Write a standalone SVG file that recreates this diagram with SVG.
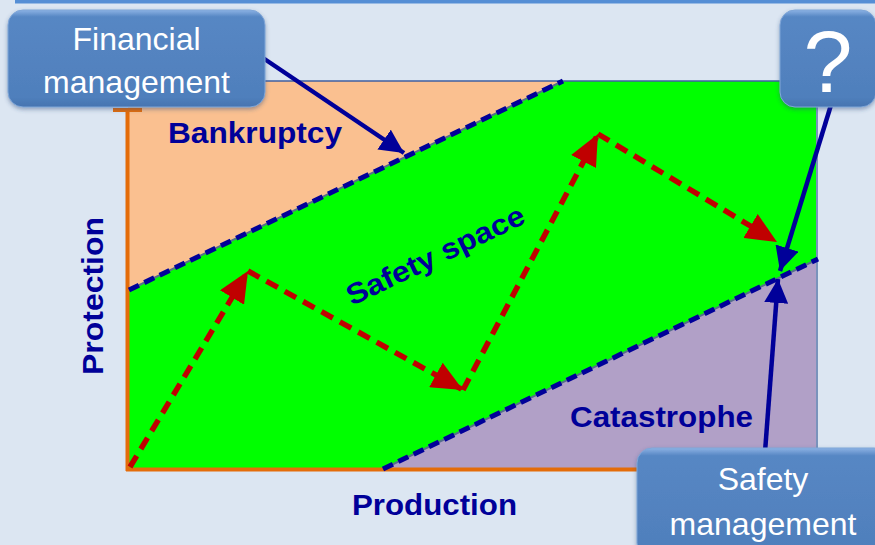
<svg xmlns="http://www.w3.org/2000/svg" width="875" height="545" viewBox="0 0 875 545">
  <defs>
    <style>
      .label { font-family: "Liberation Sans", Arial, sans-serif; font-weight: bold; font-size: 29px; fill: #000099; }
      .boxtext { font-family: "Liberation Sans", Arial, sans-serif; font-size: 32px; fill: #FFFFFF; text-anchor: middle; }
      .box { fill: url(#boxFill); stroke: #7FA6D8; stroke-width: 1; filter: url(#shadow); }
      .limit-base { stroke: #55708A; stroke-width: 2; fill: none; }
      .limit { stroke: #000099; stroke-width: 5; stroke-dasharray: 11 6; fill: none; }
      .drift { stroke: #C00000; stroke-width: 5.5; stroke-dasharray: 13 8; fill: none; marker-end: url(#redHead); }
      .pointer { stroke: #000099; stroke-width: 4.5; fill: none; marker-end: url(#blueHead); }
      .axis { stroke: #E46C0A; stroke-width: 4; fill: none; }
    </style>
    <linearGradient id="boxFill" x1="0" y1="0" x2="0" y2="1">
      <stop offset="0" stop-color="#8CB2E4"/>
      <stop offset="0.07" stop-color="#5787C4"/>
      <stop offset="0.9" stop-color="#4F7FBC"/>
      <stop offset="1" stop-color="#4674B0"/>
    </linearGradient>
    <filter id="shadow" x="-10%" y="-10%" width="120%" height="130%">
      <feDropShadow dx="0" dy="2" stdDeviation="2" flood-color="#2A4A7A" flood-opacity="0.45"/>
    </filter>
    <marker id="redHead" markerUnits="userSpaceOnUse" viewBox="0 0 31 28" markerWidth="31" markerHeight="28" refX="31" refY="14" orient="auto">
      <path d="M0,0 L31,14 L0,28 Z" fill="#C00000"/>
    </marker>
    <marker id="blueHead" markerUnits="userSpaceOnUse" viewBox="0 0 24 24" markerWidth="24" markerHeight="24" refX="24" refY="12" orient="auto">
      <path d="M0,0 L24,12 L0,24 Z" fill="#000099"/>
    </marker>
  </defs>

  <!-- slide background and title rule -->
  <rect x="0" y="0" width="875" height="545" fill="#DCE6F2"/>
  <rect x="15" y="0" width="860" height="3.5" fill="#558ED5"/>

  <!-- regions of the production/protection plane -->
  <g id="regions">
    <rect x="128" y="81" width="689" height="388" fill="#00FF00"/>
    <polygon points="128,81 563,81 128,290" fill="#FAC090"/>
    <polygon points="383,469 817,259 817,469" fill="#B1A0C7"/>
    <line x1="128" y1="81" x2="817" y2="81" stroke="#3F5FA0" stroke-width="1.5"/>
    <line x1="817" y1="81" x2="817" y2="469" stroke="#7A93BC" stroke-width="2"/>
  </g>

  <!-- axes -->
  <g id="axes">
    <line class="axis" x1="127.5" y1="110" x2="127.5" y2="471"/>
    <line class="axis" x1="113" y1="110" x2="142" y2="110"/>
    <line class="axis" x1="126" y1="469.5" x2="700" y2="469.5"/>
  </g>

  <!-- boundaries of the safety space -->
  <g id="boundaries">
    <line class="limit-base" x1="129" y1="290" x2="563" y2="81"/>
    <line class="limit" x1="129" y1="290" x2="563" y2="81"/>
    <line class="limit-base" x1="383" y1="469" x2="818" y2="259"/>
    <line class="limit" x1="383" y1="469" x2="818" y2="259"/>
  </g>

  <!-- region and axis labels -->
  <g id="bankruptcy"><text class="label" x="168" y="143" textLength="174" lengthAdjust="spacingAndGlyphs">Bankruptcy</text></g>
  <g id="catastrophe"><text class="label" x="570" y="427" textLength="183" lengthAdjust="spacingAndGlyphs">Catastrophe</text></g>
  <g id="production"><text class="label" x="352" y="515" textLength="165" lengthAdjust="spacingAndGlyphs">Production</text></g>
  <g id="protection"><text class="label" transform="translate(103,375) rotate(-90)" x="0" y="0" textLength="158" lengthAdjust="spacingAndGlyphs">Protection</text></g>
  <g id="safety-space"><text class="label" transform="translate(352,306) rotate(-25.5)" x="0" y="0" textLength="194" lengthAdjust="spacingAndGlyphs">Safety space</text></g>

  <!-- connectors: drift of the operating point and management pointers -->
  <g id="connectors">
    <line class="drift" x1="130" y1="467" x2="248" y2="271"/>
    <line class="drift" x1="248" y1="271" x2="463" y2="390"/>
    <line class="drift" x1="463" y1="390" x2="598" y2="134"/>
    <line class="drift" x1="598" y1="134" x2="777" y2="242"/>
    <line class="pointer" x1="263" y1="58" x2="404" y2="153"/>
    <line class="pointer" x1="831" y1="105" x2="780" y2="271"/>
    <line class="pointer" x1="765" y1="452" x2="778" y2="279"/>
  </g>

  <!-- callout boxes -->
  <g id="financial-management">
    <rect class="box" x="8" y="10" width="257" height="97" rx="15" ry="15"/>
    <text class="boxtext" x="136.5" y="50">Financial</text>
    <text class="boxtext" x="136.5" y="93">management</text>
  </g>
  <g id="unknown-management">
    <rect class="box" x="780" y="10" width="96" height="97" rx="15" ry="15"/>
    <text class="boxtext" x="828" y="92" style="font-size:88px">?</text>
  </g>
  <g id="safety-management">
    <rect class="box" x="637" y="448" width="252" height="110" rx="15" ry="15"/>
    <text class="boxtext" x="763" y="490">Safety</text>
    <text class="boxtext" x="763" y="535">management</text>
  </g>
</svg>
